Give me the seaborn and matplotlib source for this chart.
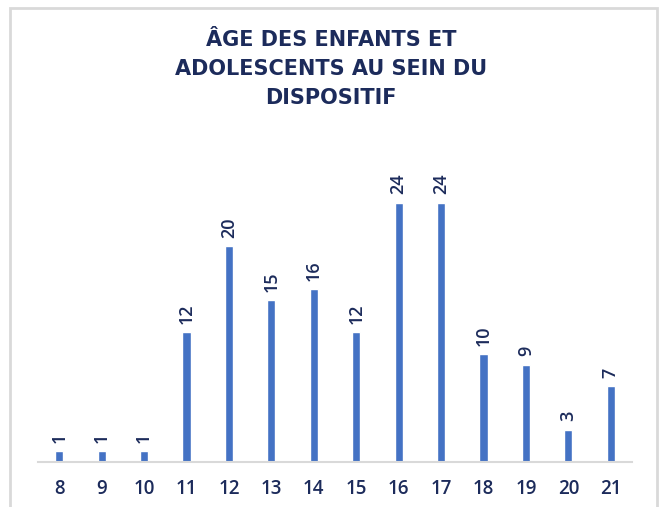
import matplotlib.pyplot as plt
import seaborn as sns
import pandas as pd
from matplotlib.patches import Rectangle

# Data
ages = ['8', '9', '10', '11', '12', '13', '14', '15', '16', '17', '18', '19', '20', '21']
counts = [1, 1, 1, 12, 20, 15, 16, 12, 24, 24, 10, 9, 3, 7]
title_lines = ['ÂGE DES ENFANTS ET', 'ADOLESCENTS AU SEIN DU', 'DISPOSITIF']

navy = '#1C2B5B'
bar_blue = '#4472C4'
grid_grey = '#D9D9D9'

sns.set_style('white')
plt.rcParams['font.family'] = ['Open Sans', 'DejaVu Sans']

df = pd.DataFrame({'age': ages, 'count': counts})

fig = plt.figure(figsize=(6.62, 5.07), dpi=100)
ax = fig.add_axes([38 / 662, 45 / 507, 594 / 662, 324 / 507])

sns.barplot(data=df, x='age', y='count', color=bar_blue, width=0.19,
            saturation=1, ax=ax)

for i, v in enumerate(counts):
    ax.annotate(str(v), (i, v), xytext=(0, 6), textcoords='offset points',
                rotation=90, ha='center', va='bottom', fontsize=13,
                color=navy, fontweight='semibold')

ax.set_xlim(-0.5, len(ages) - 0.5)
ax.set_ylim(0, 30)
ax.set_xlabel('')
ax.set_ylabel('')
ax.set_yticks([])
ax.tick_params(axis='x', length=0, labelsize=13.5, labelcolor=navy, pad=12)
for lbl in ax.get_xticklabels():
    lbl.set_fontweight('semibold')
for side in ['top', 'left', 'right']:
    ax.spines[side].set_visible(False)
ax.spines['bottom'].set_color(grid_grey)
ax.spines['bottom'].set_linewidth(1.5)

# title, three centred lines (wide bold face to mimic the letter spacing)
for k, line in enumerate(title_lines):
    fig.text(0.5, 1 - (40 + 29 * k) / 507, line, ha='center', va='center',
             fontsize=15, fontweight='bold', color=navy,
             family=['DejaVu Sans'])

# light grey frame around the card (open at the bottom)
fig.patches.append(Rectangle((10 / 662, -0.05), 647 / 662, 1.05 - 8 / 507,
                             transform=fig.transFigure, fill=False,
                             edgecolor=grid_grey, linewidth=2))

fig.savefig('out.png', dpi=100)
